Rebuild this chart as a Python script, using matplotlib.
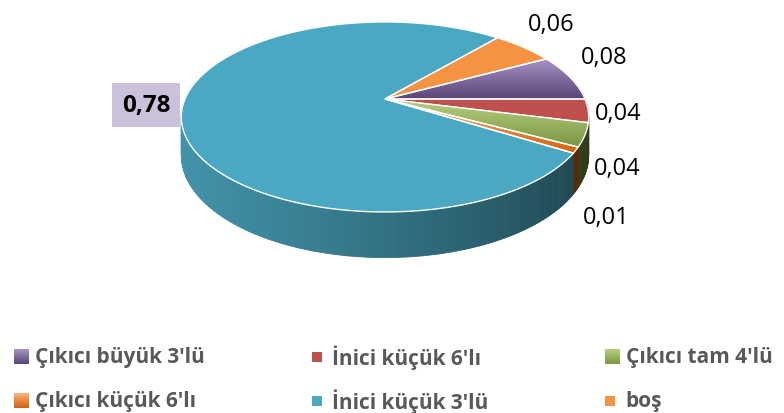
import numpy as np
import matplotlib.pyplot as plt
from matplotlib.patches import Polygon, Rectangle
import matplotlib.colors as mcolors

plt.rcParams['font.family'] = ['Open Sans', 'DejaVu Sans']

# chart data
labels = ["Çıkıcı büyük 3'lü", "İnici küçük 6'lı", "Çıkıcı tam 4'lü",
          "Çıkıcı küçük 6'lı", "İnici küçük 3'lü", "boş"]
values = [0.08, 0.04, 0.04, 0.01, 0.78, 0.06]

colors = ['#8064A2', '#C0504D', '#9BBB59', '#E46C0A', '#4AA8C2', '#F59343']
# slices/markers with a top-to-bottom gradient fill
gradients = {0: ('#A893C6', '#5B4578'),
             2: ('#B5CF80', '#7A9742'),
             3: ('#F9B47A', '#D6620A')}

# label placement (pixel centres)
label_pos = [(604, 58), (618, 114), (617, 169), (606, 218), (146, 106), (551, 25)]

# pie geometry in pixels, with a simple perspective
cx, cy = 385, 100
A, B, k = 200, 91.6, 0.189
depth = 37
first_angle = 61.5  # clockwise from 12 o'clock


def proj(theta, z=0.0):
    u, v = np.cos(theta), np.sin(theta)
    w = 1 + k * v
    return cx + A * u / w, cy - B * v / w + z * depth / w


def shade(col, f):
    r, g, b = mcolors.to_rgb(col)
    return (r * f, g * f, b * f)


fig = plt.figure(figsize=(7.84, 4.14), dpi=100)
ax = fig.add_axes([0, 0, 1, 1])
ax.set_xlim(0, 784)
ax.set_ylim(414, 0)
ax.axis('off')

total = sum(values)
start = np.deg2rad(90 - first_angle)
bounds = [start]
for val in values:
    bounds.append(bounds[-1] - 2 * np.pi * val / total)

# side wall, far segments first
segs = []
for i in range(len(values)):
    a0, a1 = bounds[i], bounds[i + 1]
    n = max(2, int(abs(a1 - a0) / np.deg2rad(1)) + 1)
    t = np.linspace(a0, a1, n)
    for j in range(n - 1):
        segs.append((t[j], t[j + 1], i))
segs.sort(key=lambda s: -np.sin((s[0] + s[1]) / 2))
for ta, tb, i in segs:
    tm = (ta + tb) / 2
    if np.sin(tm) > 0.2:
        continue
    u = np.cos(tm)
    f = 0.88 - 0.5 * ((u + 1) / 2) ** 1.3
    base = gradients[i][1] if i in gradients else colors[i]
    xa, ya = proj(ta)
    xb, yb = proj(tb)
    xc, yc = proj(tb, 1)
    xd, yd = proj(ta, 1)
    c = shade(base, f)
    ax.add_patch(Polygon([(xa, ya), (xb, yb), (xc, yc), (xd, yd)],
                         closed=True, facecolor=c, edgecolor=c, lw=0.6))

# top face
for i in range(len(values)):
    a0, a1 = bounds[i], bounds[i + 1]
    n = max(2, int(abs(a1 - a0) / np.deg2rad(0.5)) + 1)
    t = np.linspace(a0, a1, n)
    xs, ys = proj(t)
    pts = [(cx, cy)] + list(zip(xs, ys))
    if i in gradients:
        poly = Polygon(pts, closed=True, facecolor='none', edgecolor='white', lw=1.0, zorder=3)
        ax.add_patch(poly)
        c0, c1 = np.array(mcolors.to_rgb(gradients[i][0])), np.array(mcolors.to_rgb(gradients[i][1]))
        s = np.linspace(0, 1, 64)[:, None]
        img = (c0 * (1 - s) + c1 * s)[:, None, :]
        y0, y1 = min(p[1] for p in pts), max(p[1] for p in pts)
        x0, x1 = min(p[0] for p in pts), max(p[0] for p in pts)
        im = ax.imshow(img, extent=(x0, x1, y1, y0), origin='upper', aspect='auto', zorder=2)
        im.set_clip_path(poly)
    else:
        ax.add_patch(Polygon(pts, closed=True, facecolor=colors[i], edgecolor='white', lw=1.0, zorder=2))

# data labels
for i, val in enumerate(values):
    txt = f"{val:.2f}".replace('.', ',')
    x, y = label_pos[i]
    if i == 4:
        ax.text(x, y, txt, fontsize=17.5, fontweight='bold', ha='center', va='center', color='black',
                bbox=dict(boxstyle='square,pad=0.4', facecolor='#CCC1DA', edgecolor='none'), zorder=5)
    else:
        ax.text(x, y, txt, fontsize=17, ha='center', va='center', color='black', zorder=5)

# legend
col_x = [14, 312, 605]
row_y = [358, 402]
for i, lab in enumerate(labels):
    x = col_x[i % 3]
    y = row_y[i // 3]
    if i in gradients:
        size = 15
        c0, c1 = np.array(mcolors.to_rgb(gradients[i][0])), np.array(mcolors.to_rgb(gradients[i][1]))
        s = np.linspace(0, 1, 32)[:, None]
        img = (c0 * (1 - s) + c1 * s)[:, None, :]
        ax.imshow(img, extent=(x, x + size, y + size / 2, y - size / 2), origin='upper', aspect='auto', zorder=4)
        tx = x + 21
    else:
        size = 10
        ax.add_patch(Rectangle((x, y - size / 2), size, size, facecolor=colors[i], edgecolor='none'))
        tx = x + 20
    ax.text(tx, y, lab, fontsize=15, fontweight='bold', color='#595959', ha='left', va='center')

ax.set_xlim(0, 784)
ax.set_ylim(414, 0)
fig.savefig('out.png', dpi=100)
